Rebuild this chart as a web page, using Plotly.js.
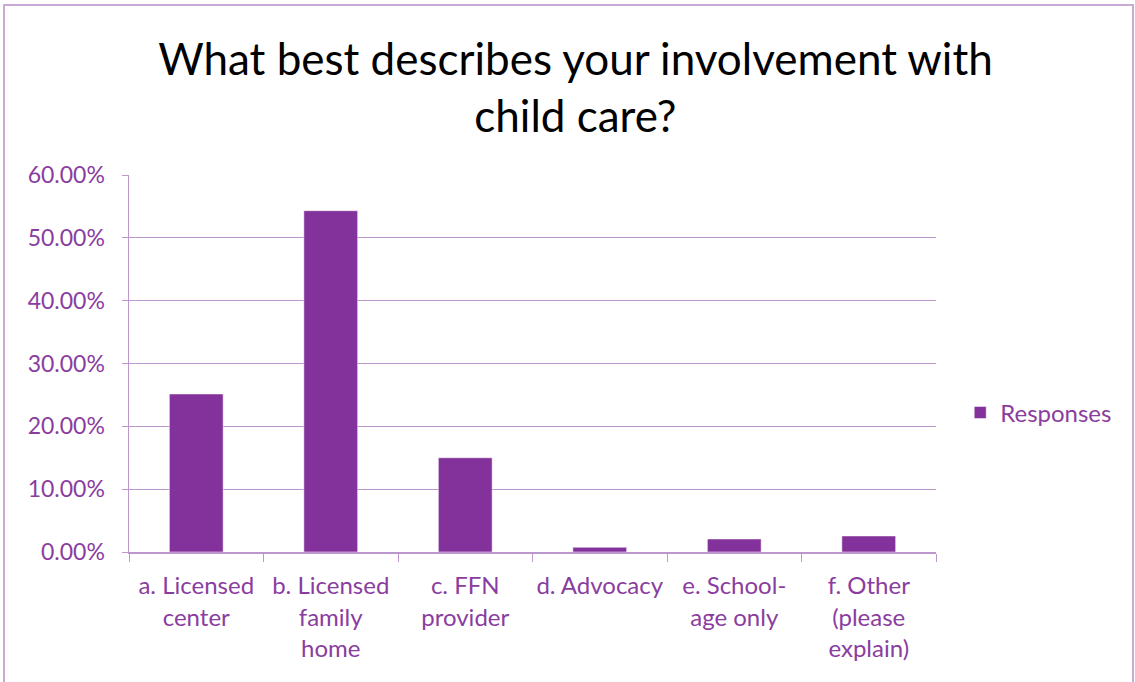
<!DOCTYPE html>
<html><head><meta charset="utf-8">
<script src="https://cdn.plot.ly/plotly-3.0.1.min.js"></script>
<style>
html,body{margin:0;padding:0;background:#fff;}
#wrap{position:absolute;left:3px;top:4px;width:1131px;height:690px;border:2px solid #c9a9d6;box-sizing:border-box;}
#chart{position:absolute;left:0;top:0;width:1135px;height:682px;}
</style>
</head><body>
<div id="wrap"></div>
<div id="chart"></div>
<script>
const categories = ["a. Licensed<br>center", "b. Licensed<br>family<br>home", "c. FFN<br>provider", "d. Advocacy", "e. School-<br>age only", "f. Other<br>(please<br>explain)"];
const responses = [0.2515, 0.5432, 0.1500, 0.0075, 0.0207, 0.0255];
const seriesName = "Responses";
const yTicks = [0, 0.1, 0.2, 0.3, 0.4, 0.5, 0.6];

const purple = "#84329b";
const textPurple = "#8a3d9f";
const grid = "#bb97cb";
const font = "Lato, 'Open Sans', sans-serif";

Plotly.newPlot("chart", [{
  type: "bar",
  x: categories,
  y: responses,
  name: seriesName,
  marker: {color: purple, line: {color: "#ffffff", width: 0.5}},
  showlegend: true
}], {
  width: 1135, height: 682,
  paper_bgcolor: "rgba(0,0,0,0)",
  plot_bgcolor: "rgba(0,0,0,0)",
  margin: {l: 129, r: 199, t: 175, b: 130},
  bargap: 0.6,
  font: {family: font, color: textPurple},
  title: {
    text: "What best describes your involvement with<br>child care?",
    x: 0.507, xanchor: "center", y: 0.89, yanchor: "middle",
    font: {family: font, size: 44, color: "#000000"}
  },
  xaxis: {
    type: "category",
    showline: true, linecolor: grid, linewidth: 1.5,
    ticks: "outside", tickson: "boundaries", ticklen: 8, tickcolor: grid,
    ticklabelstandoff: 12,
    tickfont: {family: font, size: 24, color: textPurple},
    showgrid: false, tickangle: 0
  },
  yaxis: {
    range: [0, 0.6],
    tickvals: yTicks,
    tickformat: ".2%",
    showline: true, linecolor: grid, linewidth: 1.5,
    ticks: "outside", ticklen: 6, tickcolor: grid,
    ticklabelstandoff: 12,
    gridcolor: grid, gridwidth: 1.2,
    zeroline: false,
    tickfont: {family: font, size: 23, color: textPurple}
  },
  legend: {
    x: 1.03, xanchor: "left", y: 0.369, yanchor: "middle",
    font: {family: font, size: 24, color: textPurple},
    itemwidth: 30
  }
}, {displayModeBar: false, staticPlot: true});
</script>
</body></html>
